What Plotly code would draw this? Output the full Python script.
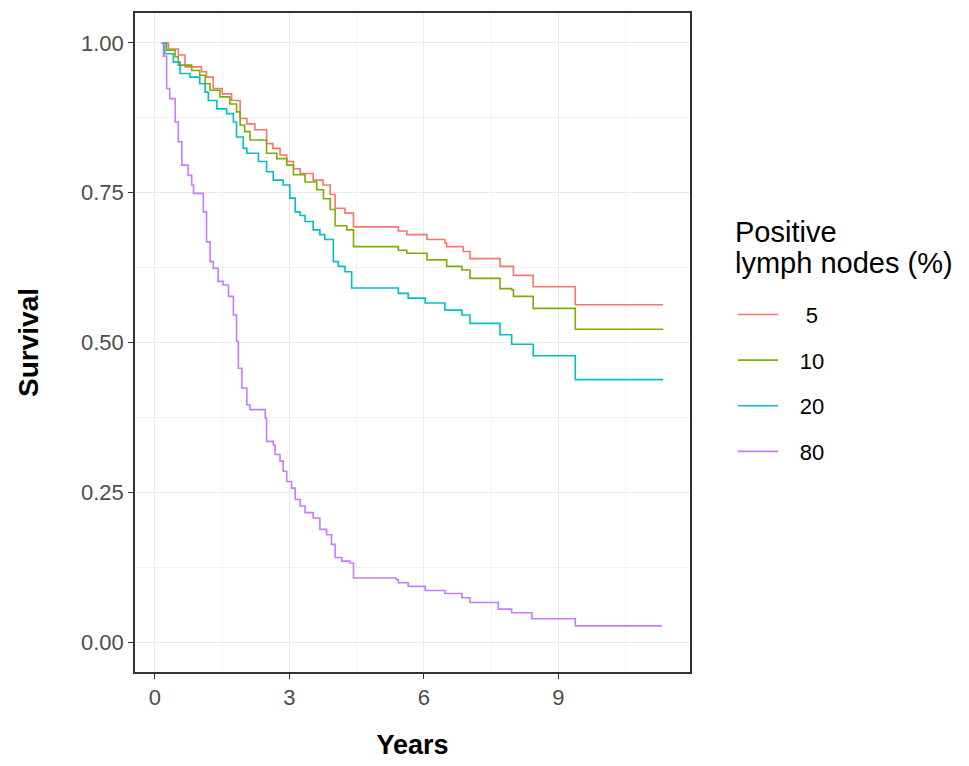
import plotly.graph_objects as go

groups = [" 5", "10", "20", "80"]
colors = ["#F8766D", "#7CAE00", "#00BFC4", "#C77CFF"]
legend_title = ["Positive", "lymph nodes (%)"]

t5 = [0.15, 0.3, 0.52, 0.67, 1.04, 1.15, 1.3, 1.5, 1.71, 1.9, 2.05, 2.23, 2.49, 2.63, 2.79, 2.94, 3.09,
      3.24, 3.53, 3.75, 3.91, 4.02, 4.24, 4.43, 5.43, 5.62, 6.07, 6.47, 6.51, 6.88, 7.03, 7.7, 8.0, 8.44, 9.38, 11.34]
s5 = [1.0, 0.99, 0.98, 0.96, 0.952, 0.943, 0.924, 0.915, 0.904, 0.874, 0.865, 0.855, 0.832, 0.824, 0.813, 0.802, 0.79,
      0.782, 0.771, 0.763, 0.747, 0.724, 0.716, 0.693, 0.686, 0.68, 0.672, 0.666, 0.66, 0.652, 0.64, 0.627, 0.612, 0.593, 0.563, 0.563]

t10 = [0.15, 0.26, 0.45, 0.52, 0.82, 1.0, 1.12, 1.23, 1.45, 1.67, 1.82, 1.9, 2.0, 2.12, 2.49, 2.72, 2.94, 3.09,
       3.35, 3.61, 3.76, 3.91, 4.02, 4.28, 4.43, 5.43, 5.62, 6.07, 6.51, 6.85, 7.03, 7.7, 7.96, 8.0, 8.44, 9.38, 11.34]
s10 = [1.0, 0.988, 0.977, 0.963, 0.954, 0.946, 0.932, 0.921, 0.91, 0.898, 0.885, 0.863, 0.852, 0.838, 0.816, 0.807, 0.796, 0.78,
       0.768, 0.755, 0.74, 0.722, 0.695, 0.688, 0.66, 0.654, 0.649, 0.638, 0.627, 0.621, 0.607, 0.59, 0.588, 0.577, 0.557, 0.522, 0.522]

t20 = [0.15, 0.22, 0.41, 0.56, 0.78, 1.0, 1.12, 1.19, 1.38, 1.6, 1.75, 1.82, 1.97, 2.05, 2.31, 2.49, 2.64, 2.86, 3.01,
       3.13, 3.24, 3.35, 3.53, 3.68, 3.79, 3.98, 4.09, 4.24, 4.39, 5.43, 5.65, 6.03, 6.47, 6.85, 7.03, 7.7, 7.96, 8.44, 9.38, 11.34]
s20 = [1.0, 0.982, 0.968, 0.949, 0.943, 0.932, 0.918, 0.904, 0.89, 0.882, 0.868, 0.843, 0.824, 0.816, 0.802, 0.785, 0.771, 0.763, 0.741,
       0.718, 0.712, 0.702, 0.688, 0.68, 0.672, 0.635, 0.627, 0.618, 0.591, 0.582, 0.574, 0.566, 0.554, 0.546, 0.532, 0.513, 0.497, 0.478, 0.438, 0.438]

t80 = [0.15, 0.19, 0.26, 0.33, 0.45, 0.52, 0.6, 0.74, 0.82, 0.86, 1.08, 1.15, 1.23, 1.3, 1.41, 1.52, 1.64, 1.75, 1.82,
       1.86, 1.94, 2.05, 2.12, 2.46, 2.49, 2.64, 2.68, 2.79, 2.86, 2.94, 3.05, 3.13, 3.24, 3.35, 3.53, 3.68, 3.83, 3.94,
       4.02, 4.17, 4.35, 4.43, 5.39, 5.43, 5.65, 6.03, 6.47, 6.85, 7.03, 7.66, 7.96, 8.41, 9.38, 11.31]
s80 = [1.0, 0.978, 0.924, 0.907, 0.868, 0.835, 0.796, 0.779, 0.763, 0.749, 0.718, 0.668, 0.635, 0.624, 0.602, 0.596, 0.577, 0.546, 0.502,
       0.457, 0.424, 0.396, 0.388, 0.374, 0.335, 0.329, 0.313, 0.302, 0.285, 0.268, 0.257, 0.238, 0.227, 0.216, 0.207, 0.188, 0.179, 0.163,
       0.141, 0.135, 0.132, 0.107, 0.104, 0.099, 0.093, 0.086, 0.081, 0.074, 0.066, 0.055, 0.049, 0.039, 0.027, 0.027]

times = [t5, t10, t20, t80]
surv = [s5, s10, s20, s80]

xticks = [0, 3, 6, 9]
yticks = [0.0, 0.25, 0.5, 0.75, 1.0]
ytick_labels = ["0.00", "0.25", "0.50", "0.75", "1.00"]

FONT = "Liberation Sans, Arial, sans-serif"

fig = go.Figure()
for g, c, t, s in zip(groups, colors, times, surv):
    fig.add_trace(go.Scatter(x=t, y=s, mode="lines", name="\u00a0\u00a0\u2009" + g, legendgroup=g,
                             line=dict(color=c, width=1.6, shape="hv")))

axis_common = dict(showline=True, mirror=True, linecolor="#333333", linewidth=1.5,
                   ticks="outside", ticklen=5, tickcolor="#333333", tickwidth=1.2,
                   gridcolor="#EBEBEB", gridwidth=1.2, zeroline=False,
                   tickfont=dict(family=FONT, size=22, color="#4D4D4D"))

fig.update_layout(
    width=969, height=766,
    margin=dict(l=135, r=279, t=11, b=93),
    paper_bgcolor="white", plot_bgcolor="white",
    font=dict(family=FONT, color="black"),
    xaxis=dict(range=[-0.446, 11.94], tickvals=xticks, ticktext=[str(v) for v in xticks],
               minor=dict(dtick=1.5, tick0=0, showgrid=True, gridcolor="#F2F2F2", gridwidth=1, ticks=""),
               title=dict(text="<b>Years</b>", font=dict(size=27, color="black"), standoff=26),
               **axis_common),
    yaxis=dict(range=[-0.05, 1.05], tickvals=yticks, ticktext=ytick_labels,
               minor=dict(dtick=0.125, tick0=0, showgrid=True, gridcolor="#F2F2F2", gridwidth=1, ticks=""),
               title=dict(text="<b>Survival</b>", font=dict(size=28, color="black"), standoff=34),
               **axis_common),
    legend=dict(x=1.0775, y=0.574, xanchor="left", yanchor="top",
                font=dict(size=22, color="black"), itemwidth=40, tracegroupgap=14,
                traceorder="grouped", bgcolor="rgba(0,0,0,0)"),
    showlegend=True,
)

title_y_px = [231, 262]
for txt, ypx in zip(legend_title, title_y_px):
    fig.add_annotation(text=txt, xref="paper", yref="paper", x=(733 - 135) / 555,
                       y=(673 - ypx) / 662, xanchor="left", yanchor="middle", showarrow=False,
                       font=dict(family=FONT, size=29, color="black"))

fig.write_html("out.html")
